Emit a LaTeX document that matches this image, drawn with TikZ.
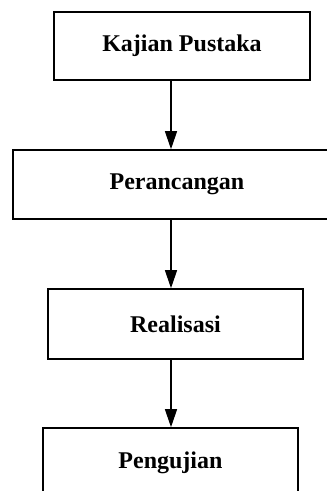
\documentclass[tikz,border=0pt]{standalone}
\usepackage{fontspec}
\setmainfont{Liberation Serif}
\usepackage{tikz}
\usetikzlibrary{arrows.meta}

\begin{document}
\begin{tikzpicture}[x=1pt, y=-1pt,
    every node/.style={rectangle,draw,line width=1.6pt,inner sep=0pt,
        font=\fontsize{24}{28}\selectfont\bfseries},
    arr/.style={line width=1.3pt,-{Triangle[width=12pt,length=18pt]}}]
    \clip (0,0) rectangle (327,491);
    \coordinate (ax) at (171,0);

    % Steps
    \node[minimum width=256pt, minimum height=68pt] (kajian) at (182,46) {Kajian Pustaka};
    \node[minimum width=328pt, minimum height=69pt] (rancang) at (177,184.5) {Perancangan};
    \node[minimum width=255pt, minimum height=70pt] (realisasi) at (175.5,324) {Realisasi};
    \node[minimum width=255pt, minimum height=70pt] (uji) at (170.5,463) {Pengujian};

    % Arrows
    \draw[arr] (kajian.south -| ax) -- (rancang.north -| ax);
    \draw[arr] (rancang.south -| ax) -- (realisasi.north -| ax);
    \draw[arr] (realisasi.south -| ax) -- (uji.north -| ax);

\end{tikzpicture}
\end{document}
